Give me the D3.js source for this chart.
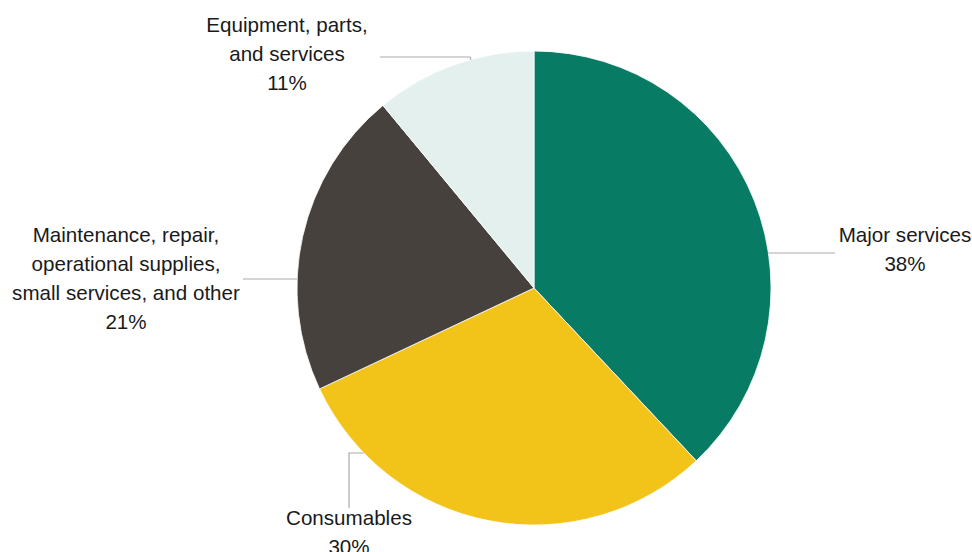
<!DOCTYPE html>
<html>
<head>
<meta charset="utf-8">
<script src="https://cdn.jsdelivr.net/npm/d3@7"></script>
<style>
  html, body { margin: 0; padding: 0; background: #fff; }
  svg { display: block; }
  text { font-family: "Liberation Sans", Arial, sans-serif; fill: #1a1a1a; }
</style>
</head>
<body>
<div id="pieChart"></div>
<script>
// data
const categories = [
  "Major services",
  "Consumables",
  "Maintenance, repair, operational supplies, small services, and other",
  "Equipment, parts, and services"
];
const shares = [38, 30, 21, 11];
const labelLines = [
  ["Major services"],
  ["Consumables"],
  ["Maintenance, repair,", "operational supplies,", "small services, and other"],
  ["Equipment, parts,", "and services"]
];
const colors = ["#077b63", "#f2c318", "#47413d", "#e3f0ee"];

// layout
const width = 972, height = 552;
const cx = 534, cy = 288, radius = 237;
const fontSize = 20.6, lineH = 29;
// label anchor (center x, first baseline y) and leader line definition
const labelLayout = [
  { x: 905, y: 242, leader: { y: 253, to: 835, side: "right" } },
  { x: 349, y: 525, leader: { y: 453, side: "left", down: 508 } },
  { x: 126, y: 242, leader: { y: 279, to: 243, side: "left" } },
  { x: 287, y: 32, leader: { y: 57, to: 380, side: "top" } }
];

const svg = d3.select("#pieChart")
  .append("svg")
  .attr("width", width)
  .attr("height", height);

const g = svg.append("g").attr("transform", "translate(" + cx + "," + cy + ")");

const pie = d3.pie().sort(null).value(d => d.value);
const arc = d3.arc().innerRadius(0).outerRadius(radius);

const data = categories.map((c, i) => ({ name: c, value: shares[i], color: colors[i] }));

g.selectAll("path.slice")
  .data(pie(data))
  .enter()
  .append("path")
  .attr("class", "slice")
  .attr("d", arc)
  .attr("fill", d => d.data.color)
  .attr("stroke", "#fff")
  .attr("stroke-width", 0.8);

// x of pie edge at a given y
function edgeX(yAbs, side) {
  const dy = yAbs - cy;
  const dx = Math.sqrt(Math.max(0, radius * radius - dy * dy));
  return side === "right" ? cx + dx : cx - dx;
}

const leaders = svg.append("g")
  .attr("fill", "none")
  .attr("stroke", "#aaaaaa")
  .attr("stroke-width", 1.2);

labelLayout.forEach((l, i) => {
  const ld = l.leader;
  let pts;
  if (ld.side === "right") {
    pts = [[edgeX(ld.y, "right"), ld.y], [ld.to, ld.y]];
  } else if (ld.side === "top") {
    const ex = 470;
    const ey = cy - Math.sqrt(radius * radius - (ex - cx) * (ex - cx));
    pts = [[ld.to, ld.y], [ex, ld.y], [ex + 1, ey]];
  } else if (ld.down) {
    pts = [[edgeX(ld.y, "left"), ld.y], [l.x, ld.y], [l.x, ld.down]];
  } else {
    pts = [[ld.to, ld.y], [edgeX(ld.y, "left"), ld.y]];
  }
  leaders.append("path").attr("d", d3.line()(pts));

  const t = svg.append("text")
    .attr("text-anchor", "middle")
    .style("font-size", fontSize + "px");
  const lines = labelLines[i].concat([shares[i] + "%"]);
  lines.forEach((s, k) => {
    t.append("tspan")
      .attr("x", l.x)
      .attr("y", l.y + k * lineH)
      .text(s);
  });
});
</script>
</body>
</html>
